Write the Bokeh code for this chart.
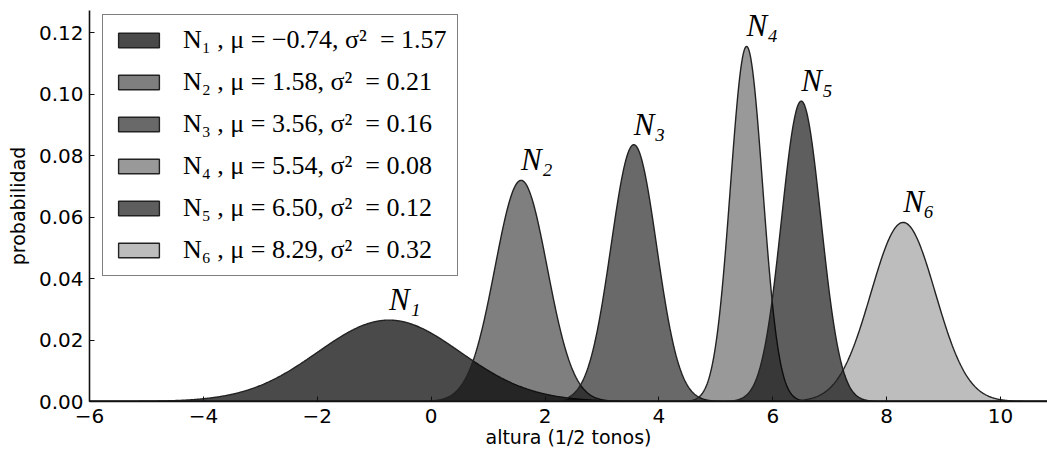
import numpy as np
from bokeh.plotting import figure
from bokeh.models import (Range1d, FixedTicker, Legend, LegendItem,
                          ColumnDataSource, NumeralTickFormatter)
from bokeh.core.properties import value
from bokeh.embed import file_html
from bokeh.resources import INLINE

# ---- data ----
names = ["N₁", "N₂", "N₃", "N₄", "N₅", "N₆"]
mus = [-0.74, 1.58, 3.56, 5.54, 6.50, 8.29]
sigma2s = [1.57, 0.21, 0.16, 0.08, 0.12, 0.32]
peaks = [0.0265, 0.0720, 0.0836, 0.1156, 0.0978, 0.0583]
fill_alphas = [0.71, 0.50, 0.59, 0.40, 0.63, 0.26]

x_ticks = [-6, -4, -2, 0, 2, 4, 6, 8, 10]
x_tick_labels = ["−6", "−4", "−2", "0", "2", "4", "6", "8", "10"]
y_ticks = [0.00, 0.02, 0.04, 0.06, 0.08, 0.10, 0.12]

X_START, X_END = -6.0, 10.825
Y_START, Y_END = 0.0, 0.1273

p = figure(width=1047, height=455,
           x_range=Range1d(X_START, X_END), y_range=Range1d(Y_START, Y_END),
           output_backend="svg", toolbar_location=None,
           min_border_left=89, min_border_right=0,
           min_border_top=10, min_border_bottom=54,
           background_fill_color="white", border_fill_color="white")
p.xgrid.visible = False
p.ygrid.visible = False
p.outline_line_color = None

xs = np.linspace(X_START, X_END, 1600)
renderers = []
for i in range(len(mus)):
    ys = peaks[i] * np.exp(-(xs - mus[i]) ** 2 / (2.0 * sigma2s[i]))
    px = np.concatenate([[xs[0]], xs, [xs[-1]]])
    py = np.concatenate([[0.0], ys, [0.0]])
    r = p.patch(px, py, fill_color="black", fill_alpha=fill_alphas[i],
                line_color="#222222", line_width=1.4)
    renderers.append(r)

# peak labels
lab_src = ColumnDataSource(dict(x=mus, y=peaks, text=names))
p.text(x="x", y="y", text="text", source=lab_src,
       text_font=value("Liberation Serif"), text_font_style="italic",
       text_font_size="31px", text_color="black",
       text_align="left", text_baseline="bottom", y_offset=-3)

# legend
items = []
for i in range(len(mus)):
    mu_s = f"{mus[i]:.2f}".replace("-", "−")
    lab = f"{names[i]} , μ = {mu_s}, σ²  = {sigma2s[i]:.2f}"
    items.append(LegendItem(label=value(lab), renderers=[renderers[i]]))
legend = Legend(items=items, location=(13, 125),
                label_text_font="Liberation Serif", label_text_font_size="26px",
                label_text_color="black",
                glyph_width=51, glyph_height=18, label_height=30,
                label_standoff=19, spacing=12, padding=10, margin=0,
                border_line_color="black", border_line_width=1.8,
                background_fill_color="white", background_fill_alpha=1.0)
p.add_layout(legend)

# axes
for ax in (p.xaxis[0], p.yaxis[0]):
    ax.axis_line_color = "#111111"
    ax.axis_line_width = 1.6
    ax.major_tick_in = 5
    ax.major_tick_out = 0
    ax.minor_tick_in = 0
    ax.minor_tick_out = 0
    ax.major_tick_line_color = "#111111"
    ax.major_tick_line_width = 1
    ax.major_label_text_font = "DejaVu Sans"
    ax.major_label_text_font_size = "20px"
    ax.major_label_text_color = "black"
    ax.axis_label_text_font = "DejaVu Sans"
    ax.axis_label_text_font_size = "19px"
    ax.axis_label_text_font_style = "normal"
    ax.axis_label_text_color = "black"

p.xaxis.ticker = FixedTicker(ticks=x_ticks)
p.xaxis.major_label_overrides = {t: l for t, l in zip(x_ticks, x_tick_labels)}
p.xaxis.major_label_standoff = 7
p.xaxis.axis_label = "altura (1/2 tonos)"
p.xaxis.axis_label_standoff = 0

p.yaxis.ticker = FixedTicker(ticks=y_ticks)
p.yaxis.formatter = NumeralTickFormatter(format="0.00")
p.yaxis.major_label_standoff = 6
p.yaxis.axis_label = "probabilidad"
p.yaxis.axis_label_standoff = 7

open("out.html", "w").write(file_html(p, INLINE))
